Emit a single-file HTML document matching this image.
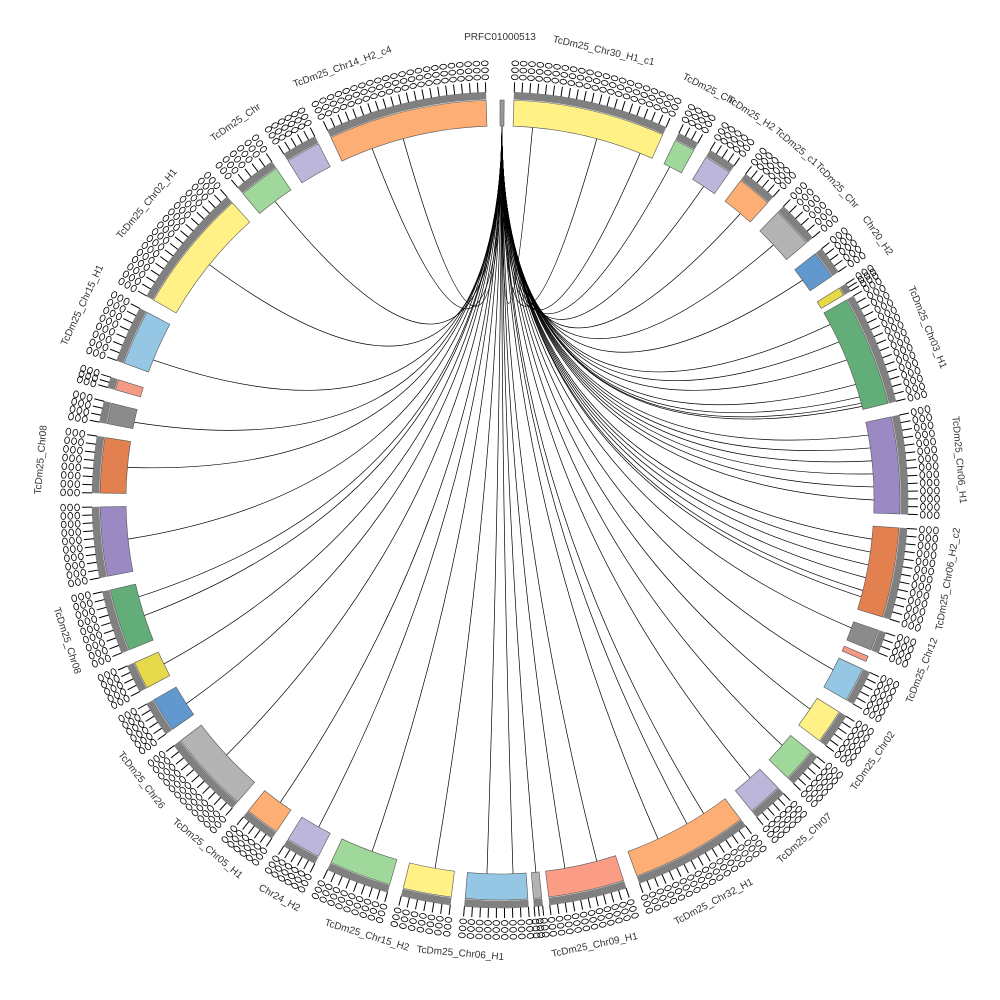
<!DOCTYPE html>
<html><head><meta charset="utf-8"><style>
html,body{margin:0;padding:0;background:#fff;}
svg{display:block;}
text{font-family:"Liberation Sans",sans-serif;font-size:10px;fill:#333;}
</style></head><body>
<svg id="s" width="1000" height="1000" viewBox="0 0 1000 1000" xmlns="http://www.w3.org/2000/svg">
<g id="links" fill="none" stroke="#000" stroke-width="0.7"></g>
<g id="segs"></g>
<g id="ticks"></g>
<g id="labels">
<text text-anchor="middle" transform="rotate(0,500,500)" x="500" y="40">PRFC01000513</text>
<text text-anchor="middle" transform="rotate(13,500,500)" x="500" y="42">TcDm25_Chr30_H1_c1</text>
<text text-anchor="middle" transform="rotate(27,500,500)" x="500" y="42">TcDm25_Chr</text>
<text text-anchor="middle" transform="rotate(33,500,500)" x="500" y="42">TcDm25_H2</text>
<text text-anchor="middle" transform="rotate(40,500,500)" x="500" y="42">TcDm25_c1</text>
<text text-anchor="middle" transform="rotate(47,500,500)" x="500" y="42">TcDm25_Chr</text>
<text text-anchor="middle" transform="rotate(55,500,500)" x="500" y="42">Chr20_H2</text>
<text text-anchor="middle" transform="rotate(68,500,500)" x="500" y="42">TcDm25_Chr03_H1</text>
<text text-anchor="middle" transform="rotate(85,500,500)" x="500" y="42">TcDm25_Chr06_H1</text>
<text text-anchor="middle" transform="rotate(280,500,500)" x="500" y="958">TcDm25_Chr06_H2_c2</text>
<text text-anchor="middle" transform="rotate(292,500,500)" x="500" y="958">TcDm25_Chr12</text>
<text text-anchor="middle" transform="rotate(305,500,500)" x="500" y="958">TcDm25_Chr02</text>
<text text-anchor="middle" transform="rotate(318,500,500)" x="500" y="958">TcDm25_Chr07</text>
<text text-anchor="middle" transform="rotate(332,500,500)" x="500" y="958">TcDm25_Chr32_H1</text>
<text text-anchor="middle" transform="rotate(348,500,500)" x="500" y="958">TcDm25_Chr09_H1</text>
<text text-anchor="middle" transform="rotate(5,500,500)" x="500" y="958">TcDm25_Chr06_H1</text>
<text text-anchor="middle" transform="rotate(17,500,500)" x="500" y="958">TcDm25_Chr15_H2</text>
<text text-anchor="middle" transform="rotate(29,500,500)" x="500" y="958">Chr24_H2</text>
<text text-anchor="middle" transform="rotate(40,500,500)" x="500" y="958">TcDm25_Chr05_H1</text>
<text text-anchor="middle" transform="rotate(52,500,500)" x="500" y="958">TcDm25_Chr26</text>
<text text-anchor="middle" transform="rotate(72,500,500)" x="500" y="958">TcDm25_Chr08</text>
<text text-anchor="middle" transform="rotate(275,500,500)" x="500" y="42">TcDm25_Chr08</text>
<text text-anchor="middle" transform="rotate(295,500,500)" x="500" y="42">TcDm25_Chr15_H1</text>
<text text-anchor="middle" transform="rotate(310,500,500)" x="500" y="42">TcDm25_Chr02_H1</text>
<text text-anchor="middle" transform="rotate(325,500,500)" x="500" y="42">TcDm25_Chr</text>
<text text-anchor="middle" transform="rotate(340,500,500)" x="500" y="42">TcDm25_Chr14_H2_c4</text>
</g>
</svg>
<script>
var cx=500,cy=500,R0=374,R1=400;
function P(a,r){var t=a*Math.PI/180;return [cx+r*Math.sin(t),cy-r*Math.cos(t)];}
function arc(a0,a1,r0,r1,fill,stroke){
 var p1=P(a0,r1),p2=P(a1,r1),p3=P(a1,r0),p4=P(a0,r0),l=(a1-a0)>180?1:0;
 return '<path d="M'+p1+' A'+r1+','+r1+' 0 '+l+' 1 '+p2+' L'+p3+' A'+r0+','+r0+' 0 '+l+' 0 '+p4+' Z" fill="'+fill+'" stroke="'+(stroke||'#555')+'" stroke-width="0.6"/>';}
var segs=[[0,0.6,'#999'],[2,24,'#fff186'],[26,29,'#9fd89a'],[31,35,'#bcb6db'],[37,42,'#fcae74'],[44,50,'#b3b3b3'],[52,56,'#6199cf'],[58,59.2,'#e6d94a'],[60,76,'#62ad78'],[78,92,'#9b89c4'],[94,107,'#e2804f'],[109,112,'#8b8b8b'],[113,113.8,'#f49a84'],[115,120,'#95c6e3'],[122,127,'#fff186'],[129,134,'#9fd89a'],[136,141,'#bcb6db'],[143,160,'#fcae74'],[162,173,'#fb9d86'],[174,175.2,'#b3b3b3'],[176,185,'#95c6e3'],[187,194,'#fff186'],[196,205,'#9fd89a'],[207,212,'#bcb6db'],[214,219,'#fcae74'],[221,233,'#b3b3b3'],[235,240,'#6199cf'],[242,246,'#e6d94a'],[248,257,'#62ad78'],[259,269,'#9b89c4'],[271,279,'#e2804f'],[281,284,'#8b8b8b'],[286,287.5,'#f49a84'],[290,298,'#95c6e3'],[300,318,'#fff186'],[320,326,'#9fd89a'],[328,333,'#bcb6db'],[335,358,'#fcae74']];
var h='',t='';
segs.forEach(function(s){h+=arc(s[0],s[1],R0,R1,s[2]);
 if(s[1]-s[0]>0.9){h+=arc(s[0],s[1],R1+1,R1+8,'#808080','#808080');
  var n=Math.max(2,Math.round((s[1]-s[0])/1.1));
  for(var i=0;i<=n;i++){var a=s[0]+(s[1]-s[0])*i/n,p=P(a,R1+8),q=P(a,R1+18);
   t+='<line x1="'+p[0]+'" y1="'+p[1]+'" x2="'+q[0]+'" y2="'+q[1]+'" stroke="#000" stroke-width="1"/>';
   for(var k=0;k<3;k++){var c=P(a,R1+23+k*7);t+='<ellipse cx="'+c[0]+'" cy="'+c[1]+'" rx="3.4" ry="2.4" transform="rotate('+a+','+c[0]+','+c[1]+')" fill="none" stroke="#000" stroke-width="0.8"/>';}
  }}});
document.getElementById('segs').innerHTML=h;
document.getElementById('ticks').innerHTML=t;
var L=[5,15,22,27,33,40,47,54,62,65,68,72,74,75,75.5,80,82,84,86,88,90,96,98,100,102,104,105,110,117,124,131,138,147,150,155,165,170,174.5,178,182,190,200,209,216,227,237,244,252,255,264,275,282,292,309,323,340,345];
var g='';
L.forEach(function(a,i){var s=P(0.3,R0),e=P(a,R0),c=[cx,cy-20];
 g+='<path d="M'+s+' Q'+c+' '+e+'"/>';});
document.getElementById('links').innerHTML=g;
</script>
</body></html>
